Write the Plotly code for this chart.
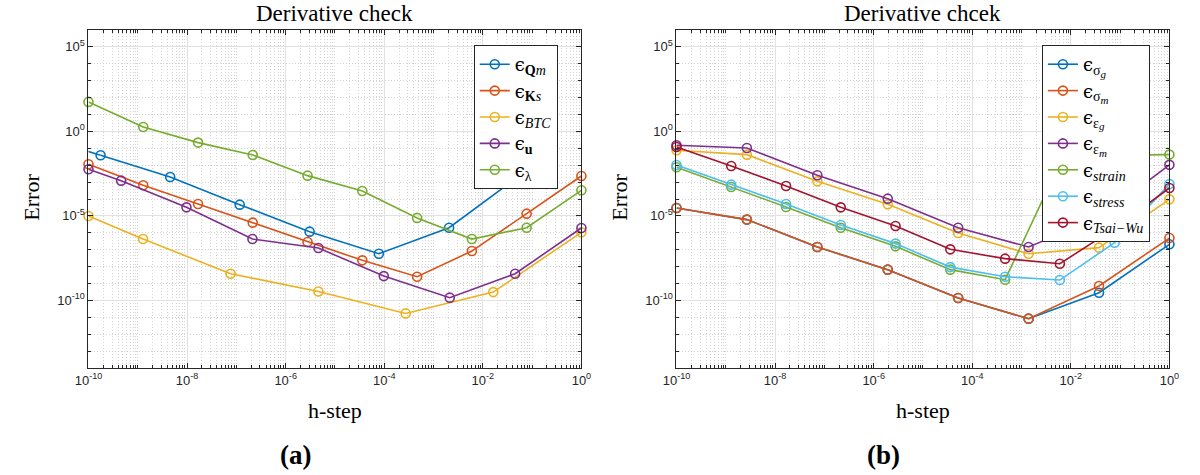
import plotly.graph_objects as go

# ---------------- data: (a) ----------------
h_Qm = [6.8e-12, 1.76e-10, 4.54e-9, 1.17e-7, 3.06e-6, 7.78e-5, 2.07e-3, 5.35e-2]
err_Qm = [0.74, 3.85e-2, 2.01e-3, 4.62e-5, 1.17e-6, 5.75e-8, 2.0e-6, 2.19e-3]

h_Ks = [1e-10, 1.29e-9, 1.67e-8, 2.15e-7, 2.78e-6, 3.59e-5, 4.64e-4, 5.99e-3, 7.74e-2, 1.0]
err_Ks = [1.13e-2, 6.46e-4, 5.06e-5, 3.98e-6, 2.85e-7, 2.34e-8, 2.51e-9, 8.32e-8, 1.36e-5, 2.30e-3]

h_BTC = [1e-10, 1.28e-9, 7.64e-8, 4.62e-6, 2.72e-4, 1.63e-2, 1.0]
err_BTC = [9.86e-6, 4.27e-7, 3.80e-9, 3.39e-10, 1.70e-11, 3.09e-10, 1.07e-6]

h_u = [1e-10, 4.60e-10, 9.72e-9, 2.12e-7, 4.62e-6, 9.79e-5, 2.13e-3, 4.52e-2, 1.0]
err_u = [5.71e-3, 1.22e-3, 3.21e-5, 4.27e-7, 1.26e-7, 2.75e-9, 1.45e-10, 3.80e-9, 1.92e-6]

h_lam = [1e-10, 1.29e-9, 1.67e-8, 2.15e-7, 2.78e-6, 3.59e-5, 4.64e-4, 5.99e-3, 7.74e-2, 1.0]
err_lam = [55.5, 1.83, 0.217, 4.04e-2, 2.41e-3, 2.98e-4, 7.59e-6, 4.27e-7, 2.0e-6, 3.27e-4]

# ---------------- data: (b) ----------------
h8 = [1e-10, 2.68e-9, 7.20e-8, 1.93e-6, 5.18e-5, 1.39e-3, 3.73e-2, 1.0]
h10 = [1e-10, 1.29e-9, 1.67e-8, 2.15e-7, 2.78e-6, 3.59e-5, 4.64e-4, 5.99e-3, 7.74e-2, 1.0]

err_sig_g = [2.94e-5, 6.03e-6, 1.45e-7, 6.61e-9, 1.38e-10, 8.32e-12, 2.85e-10, 2.09e-7]
err_sig_m = [2.94e-5, 6.03e-6, 1.45e-7, 6.61e-9, 1.38e-10, 8.32e-12, 7.08e-10, 4.90e-7]
err_eps_g = [7.62e-2, 4.22e-2, 1.11e-3, 4.84e-5, 9.77e-7, 5.75e-8, 1.32e-7, 9.55e-5]
err_eps_m = [0.151, 0.105, 2.52e-3, 1.05e-4, 2.0e-6, 1.45e-7, 7.59e-6, 1.05e-2]
err_strain = [7.50e-3, 5.14e-4, 3.37e-5, 2.0e-6, 1.58e-7, 6.61e-9, 1.68e-9, 1.29e-2, 3.85e-2, 4.23e-2]
err_stress = [1.03e-2, 7.06e-4, 5.06e-5, 2.88e-6, 2.29e-7, 9.33e-9, 2.51e-9, 1.60e-9, 2.60e-7, 7.6e-4]
err_tsai = [0.120, 9.02e-3, 5.89e-4, 3.21e-5, 2.51e-6, 1.05e-7, 2.95e-8, 1.48e-8, 1.82e-6, 4.47e-4]

x_major = [1e-10, 1e-8, 1e-6, 1e-4, 1e-2, 1e0]
x_labels = ["10<sup>-10</sup>", "10<sup>-8</sup>", "10<sup>-6</sup>",
            "10<sup>-4</sup>", "10<sup>-2</sup>", "10<sup>0</sup>"]
y_major = [1e-10, 1e-5, 1e0, 1e5]
y_labels = ["10<sup>-10</sup>", "10<sup>-5</sup>", "10<sup>0</sup>", "10<sup>5</sup>"]

# MATLAB default colour order
C = ["#0072BD", "#D95319", "#EDB120", "#7E2F8E", "#77AC30", "#4DBEEE", "#A2142F"]

SERIF = "Liberation Serif, DejaVu Serif, serif"
SANS = "Liberation Sans, Arial, sans-serif"
AXC = "#262626"
EPS = "<span style='font-family:DejaVu Serif'>ϵ</span>"


def lab(sub, subsub=None):
    """epsilon with a subscript (and optional second-level subscript)"""
    inner = f"<span style='font-size:14px'>{sub}</span>"
    if subsub is not None:
        inner += f"<sub><span style='font-size:11px'>{subsub}</span></sub>"
    return EPS + f"<sub>{inner}</sub>"


fig = go.Figure()


def add(x, y, name, color, xa, ya, legend):
    fig.add_trace(go.Scatter(
        x=x, y=y, name=name, mode="lines+markers",
        line=dict(color=color, width=1.6),
        marker=dict(symbol="circle-open", size=9, color=color, line=dict(width=1.6)),
        xaxis=xa, yaxis=ya, legend=legend, cliponaxis=False,
    ))


# (a): the first Q_m sample lies left of the axis window; draw its segment
# as a clipped line-only trace so no marker shows outside the box
fig.add_trace(go.Scatter(
    x=h_Qm[:2], y=err_Qm[:2], mode="lines", showlegend=False, hoverinfo="skip",
    line=dict(color=C[0], width=1.6), xaxis="x", yaxis="y",
))
add(h_Qm[1:], err_Qm[1:], lab("<b>Q</b><i>m</i>"), C[0], "x", "y", "legend")
add(h_Ks, err_Ks, lab("<b>K</b><i>s</i>"), C[1], "x", "y", "legend")
add(h_BTC, err_BTC, lab("<i>BTC</i>"), C[2], "x", "y", "legend")
add(h_u, err_u, lab("<b>u</b>"), C[3], "x", "y", "legend")
add(h_lam, err_lam, lab("λ"), C[4], "x", "y", "legend")

# (b)
add(h8, err_sig_g, lab("σ", "<i>g</i>"), C[0], "x2", "y2", "legend2")
add(h8, err_sig_m, lab("σ", "<i>m</i>"), C[1], "x2", "y2", "legend2")
add(h8, err_eps_g, lab("ε", "<i>g</i>"), C[2], "x2", "y2", "legend2")
add(h8, err_eps_m, lab("ε", "<i>m</i>"), C[3], "x2", "y2", "legend2")
add(h10, err_strain, lab("<i>strain</i>"), C[4], "x2", "y2", "legend2")
add(h10, err_stress, lab("<i>stress</i>"), C[5], "x2", "y2", "legend2")
add(h10, err_tsai, lab("<i>Tsai−Wu</i>"), C[6], "x2", "y2", "legend2")

W, H = 1200, 475
minor_x = [m * 10.0 ** k for k in range(-10, 0) for m in range(2, 10)] + \
          [10.0 ** k for k in (-9, -7, -5, -3, -1)]
minor_y = [10.0 ** k for k in range(-14, 7) if k % 5 != 0]

xcommon = dict(
    type="log", range=[-10, 0], tickmode="array", tickvals=x_major, ticktext=x_labels,
    ticks="inside", ticklen=5, tickcolor=AXC, showline=True, linecolor=AXC, linewidth=1,
    mirror="allticks", showgrid=True, gridcolor="#e2e2e2", gridwidth=1, zeroline=False,
    tickfont=dict(family=SANS, size=13, color=AXC),
    minor=dict(tickmode="array", tickvals=minor_x, ticks="inside", ticklen=3, tickcolor=AXC,
               showgrid=True, gridcolor="#d4d4d4", griddash="1px,2px", gridwidth=1),
)
ycommon = dict(
    type="log", range=[-14, 6], tickmode="array", tickvals=y_major, ticktext=y_labels,
    ticks="inside", ticklen=5, tickcolor=AXC, showline=True, linecolor=AXC, linewidth=1,
    mirror="allticks", showgrid=True, gridcolor="#e2e2e2", gridwidth=1, zeroline=False,
    tickfont=dict(family=SANS, size=13, color=AXC),
    minor=dict(tickmode="array", tickvals=minor_y, ticks="inside", ticklen=3, tickcolor=AXC,
               showgrid=True, gridcolor="#d4d4d4", griddash="1px,2px", gridwidth=1),
)

legcommon = dict(yanchor="top", xanchor="center", bgcolor="white", bordercolor=AXC,
                 borderwidth=1, tracegroupgap=0,
                 font=dict(family=SERIF, size=18, color="black"))

ydom = [1 - 368 / H, 1 - 30 / H]
fig.update_layout(
    width=W, height=H, margin=dict(l=0, r=0, t=0, b=0),
    paper_bgcolor="white", plot_bgcolor="white",
    xaxis=dict(domain=[76 / W, 579 / W], anchor="y", **xcommon),
    yaxis=dict(domain=ydom, anchor="x", **ycommon),
    xaxis2=dict(domain=[676 / W, 1179 / W], anchor="y2", **xcommon),
    yaxis2=dict(domain=ydom, anchor="x2", **ycommon),
    legend=dict(x=512 / W, y=1 - 45 / H, **legcommon),
    legend2=dict(x=1104 / W, y=1 - 45 / H, **legcommon),
    showlegend=True,
)


def note(text, x, y, size, angle=0):
    fig.add_annotation(text=text, x=x / W, y=1 - y / H, xref="paper", yref="paper",
                       showarrow=False, textangle=angle, xanchor="center", yanchor="middle",
                       font=dict(family=SERIF, size=size, color="black"))


note("Derivative check", 327.5, 13, 23)
note("Derivative chcek", 927.5, 13, 23)
note("h-step", 327.5, 410, 22)
note("h-step", 927.5, 410, 22)
note("Error", 17, 197, 22, -90)
note("Error", 617, 197, 22, -90)
note("<b>(a)</b>", 287, 455, 27)
note("<b>(b)</b>", 887, 455, 27)

fig.write_html("out.html")
